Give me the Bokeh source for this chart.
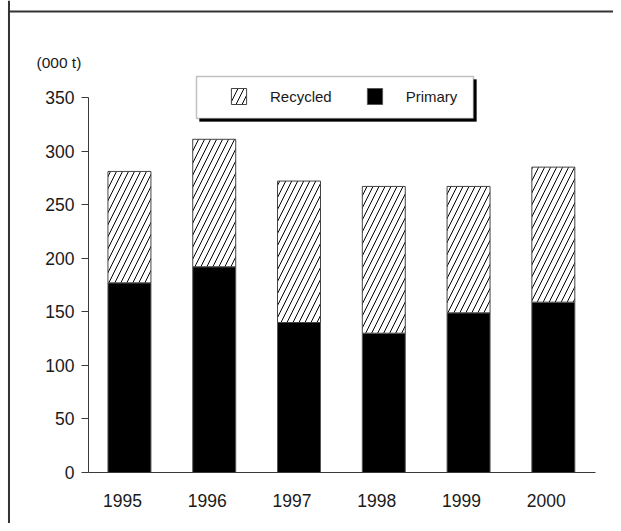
from bokeh.plotting import figure
from bokeh.models import (ColumnDataSource, Range1d, FixedTicker, Legend, LegendItem,
                          BoxAnnotation, Label, Span)
from bokeh.transform import dodge, stack
from bokeh.embed import file_html
from bokeh.resources import INLINE

# ---- data ----
YEARS = ["1995", "1996", "1997", "1998", "1999", "2000"]
PRIMARY = [177, 192, 140, 130, 149, 159]
RECYCLED = [104, 119, 132, 137, 118, 126]
Y_TICKS = [0, 50, 100, 150, 200, 250, 300, 350]
UNIT_LABEL = "(000 t)"
SERIES = ["Recycled", "Primary"]

FONT = "Liberation Sans"
TXT = "#1a1a1a"
AX = "#3a3a3a"

src = ColumnDataSource(dict(idx=list(range(len(YEARS))), year=YEARS,
                            primary=PRIMARY, recycled=RECYCLED))

# the plot frame covers the whole canvas; axes are drawn at fixed locations inside it
p = figure(width=613, height=523, output_backend="svg", toolbar_location=None,
           x_range=Range1d(-1.438, 5.7925), y_range=Range1d(-47.6, 440.53),
           min_border=0, min_border_left=0, min_border_right=0,
           min_border_top=0, min_border_bottom=0)
p.outline_line_color = None
p.grid.visible = False
p.background_fill_color = "white"
p.border_fill_color = "white"

# outer frame: only its top and left edges fall inside the window
p.add_layout(BoxAnnotation(left=-1.3495, right=20, top=431.2, bottom=429.3,
                           fill_color="#333333", fill_alpha=1, line_color=None,
                           level="underlay"))
p.add_layout(Span(location=-1.338, dimension="height", line_color="#333333", line_width=2,
                  level="underlay"))

bw = 0.507
r_prim = p.vbar(x=dodge("idx", 0.083), width=bw, bottom=0, top=stack("primary"), source=src,
                fill_color="black", line_color="#555555", line_width=1)
r_rec = p.vbar(x=dodge("idx", 0.083), width=bw, bottom=stack("primary"),
               top=stack("primary", "recycled"), source=src,
               fill_color="white", line_color="#444444", line_width=1,
               hatch_pattern="/", hatch_color="black", hatch_weight=1, hatch_scale=12)

# axes
xa = p.xaxis[0]
xa.fixed_location = 0
xa.bounds = (-0.4, 5.58)
xa.ticker = FixedTicker(ticks=list(range(len(YEARS))))
xa.major_label_overrides = {i: y for i, y in enumerate(YEARS)}
xa.major_tick_line_color = None
xa.minor_tick_line_color = None
xa.axis_line_color = AX
xa.major_label_text_font = FONT
xa.major_label_text_font_size = "17.5px"
xa.major_label_text_color = TXT
xa.major_label_standoff = 16

ya = p.yaxis[0]
ya.fixed_location = -0.4
ya.bounds = (0, 350)
ya.ticker = FixedTicker(ticks=Y_TICKS)
ya.major_tick_in = 0
ya.major_tick_out = 7
ya.minor_tick_line_color = None
ya.axis_line_color = AX
ya.major_tick_line_color = AX
ya.major_label_text_font = FONT
ya.major_label_text_font_size = "17.5px"
ya.major_label_text_color = TXT
ya.major_label_standoff = 7

p.add_layout(Label(x=-1.0134, y=382.66, text=UNIT_LABEL, text_font=FONT, text_font_size="15.5px",
                   text_color=TXT, text_baseline="alphabetic"))

# legend box with shadow
p.add_layout(BoxAnnotation(left=0.9092, right=4.1765, top=366.8, bottom=327.6,
                           fill_color="black", fill_alpha=1, line_color="black", line_width=1))
p.add_layout(BoxAnnotation(left=0.8738, right=4.1411, top=369.6, bottom=330.4,
                           fill_color="white", fill_alpha=1, line_color="#333333", line_width=1.5))

legend = Legend(items=[LegendItem(label=SERIES[0], renderers=[r_rec]),
                       LegendItem(label=SERIES[1], renderers=[r_prim])],
                orientation="horizontal", location=(229, 417), padding=0, margin=0,
                glyph_width=19, glyph_height=20, label_standoff=22, spacing=33,
                border_line_color=None, background_fill_alpha=0,
                label_text_font=FONT, label_text_font_size="15px", label_text_color=TXT)
p.add_layout(legend, "center")

open("out.html", "w").write(file_html(p, INLINE))
